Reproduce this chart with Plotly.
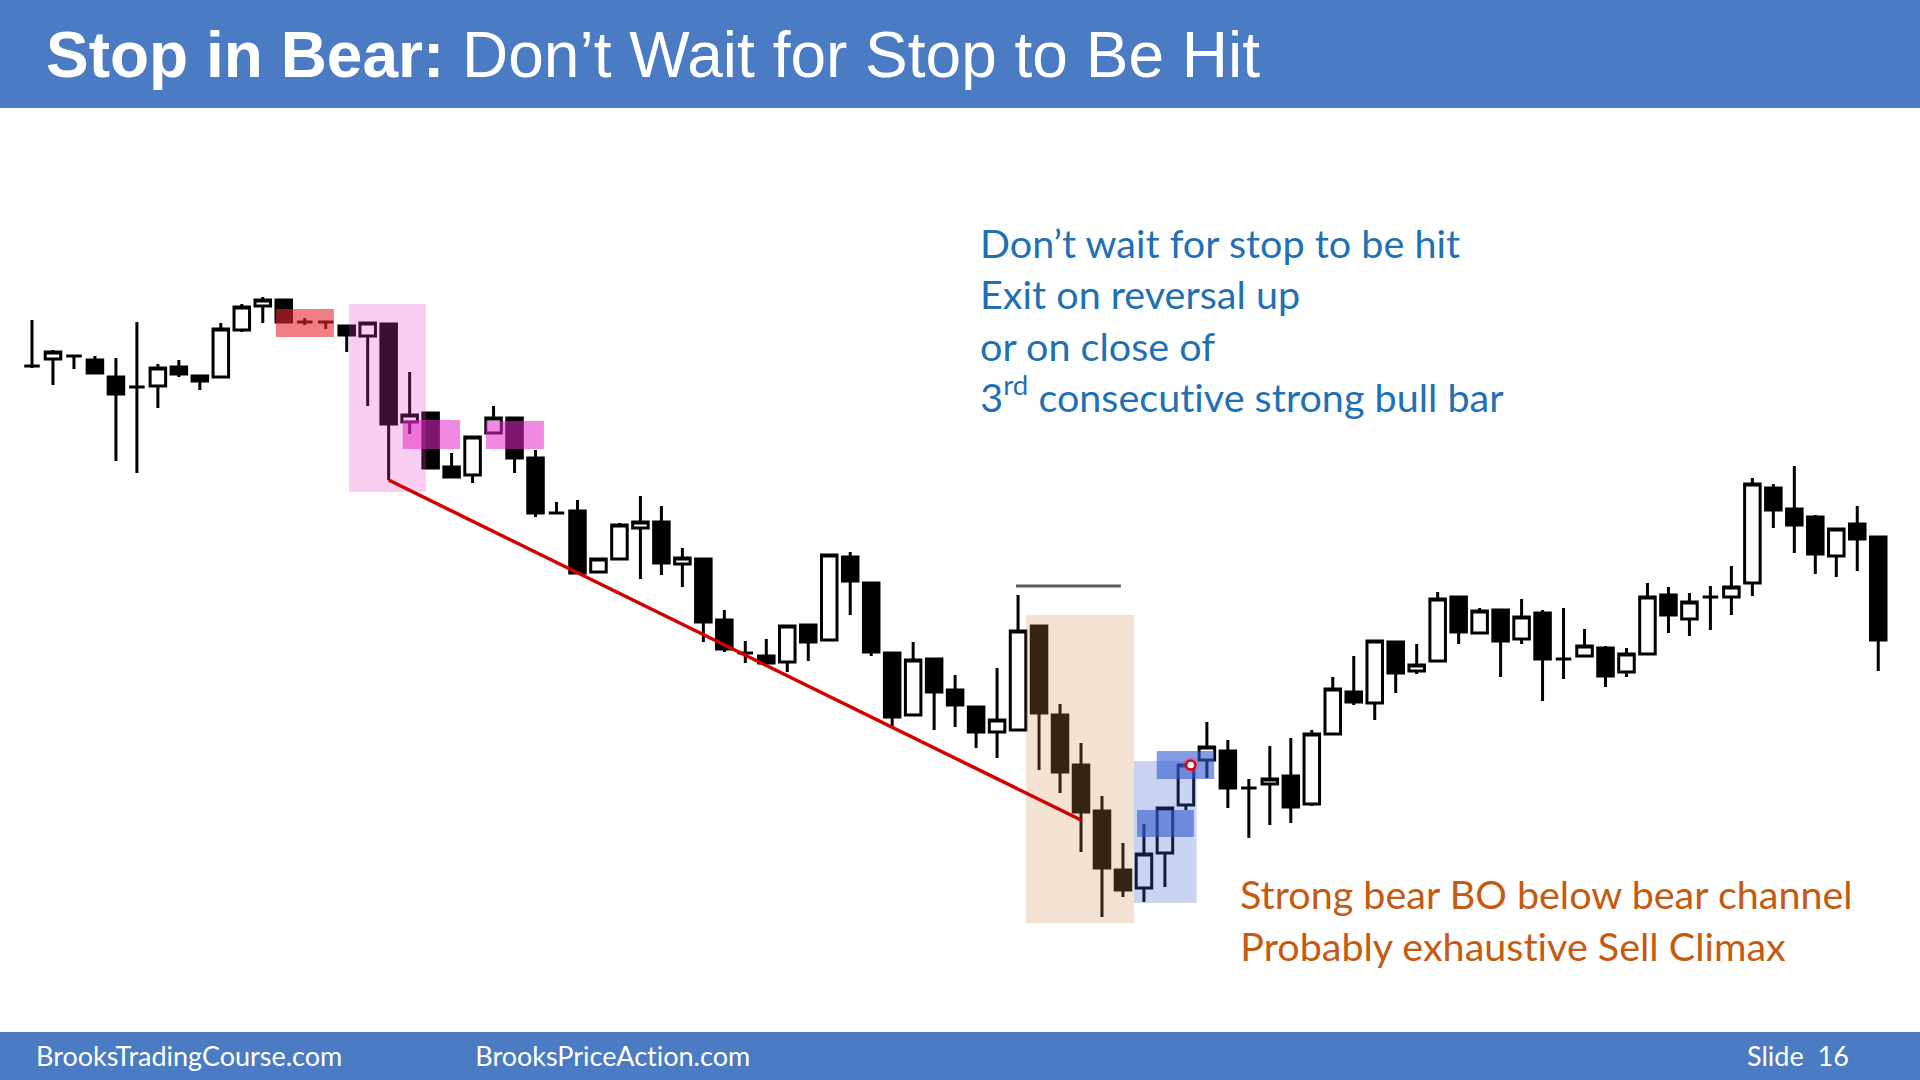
import plotly.graph_objects as go

# ---------------- data (price units) ----------------
bar_index = list(range(1, 90))
opens = [71.4, 72.1, 72.4, 72.0, 70.3, 69.3, 69.4, 71.3, 70.4, 70.3,
         75.0, 77.4, 78.0, 75.8, 75.8, 75.4, 74.4, 75.6, 65.8, 66.7,
         61.3, 60.5, 64.7, 66.2, 62.2, 56.7, 56.9, 50.8, 52.1, 55.2,
         55.8, 51.6, 52.1, 46.0, 42.7, 42.4, 41.8, 45.5, 44.0, 52.3,
         49.7, 42.7, 36.5, 42.1, 39.0, 37.3, 34.8, 35.0, 45.4, 36.5,
         31.5, 26.9, 21.0, 19.2, 22.7, 27.5, 32.0, 32.9, 29.2, 29.6,
         30.4, 27.6, 34.6, 38.8, 37.7, 43.8, 40.9, 41.9, 48.3, 44.7,
         47.0, 44.1, 46.7, 42.1, 42.4, 43.2, 40.8, 42.6, 48.5, 46.1,
         48.3, 48.3, 49.7, 59.2, 57.1, 56.3, 52.4, 55.6, 54.3]
highs = [76.0, 73.0, 72.5, 72.4, 72.2, 75.8, 71.6, 72.0, 70.4, 75.7,
         77.6, 78.3, 78.1, 76.2, 75.9, 75.4, 75.7, 75.6, 70.8, 66.8,
         62.7, 64.3, 67.4, 66.2, 63.0, 57.8, 58.0, 52.2, 55.7, 58.4,
         57.4, 53.2, 52.1, 47.0, 43.9, 44.1, 45.4, 45.5, 52.5, 52.8,
         49.7, 42.7, 43.8, 42.1, 40.5, 37.4, 41.2, 48.5, 45.4, 37.6,
         33.7, 28.4, 23.7, 25.6, 27.3, 31.7, 35.8, 34.0, 30.1, 33.4,
         34.2, 35.0, 40.3, 42.4, 43.9, 43.8, 43.6, 48.8, 48.3, 47.2,
         47.0, 48.1, 47.0, 47.2, 45.1, 43.4, 43.2, 49.7, 49.3, 48.7,
         49.4, 51.4, 60.2, 59.6, 61.4, 56.5, 55.1, 57.4, 54.3]
lows = [71.2, 69.5, 71.1, 70.6, 61.9, 60.7, 67.2, 70.3, 69.0, 70.2,
        74.8, 75.7, 75.8, 75.5, 75.1, 72.8, 67.4, 60.0, 64.6, 61.2,
        60.3, 59.7, 64.7, 60.7, 56.3, 56.6, 50.7, 50.7, 52.0, 50.1,
        50.5, 49.3, 43.8, 42.8, 41.7, 41.6, 40.8, 41.9, 43.9, 46.5,
        42.4, 35.3, 36.4, 35.0, 35.3, 33.2, 32.2, 34.9, 31.0, 28.7,
        22.8, 16.3, 18.3, 17.8, 19.3, 27.0, 30.2, 27.2, 24.2, 25.5,
        25.7, 27.4, 34.5, 37.5, 36.0, 38.7, 40.6, 41.8, 43.6, 44.7,
        40.3, 43.6, 37.9, 40.1, 42.3, 39.3, 40.3, 42.5, 44.7, 44.4,
        45.0, 46.5, 48.4, 55.2, 52.7, 50.6, 50.3, 50.9, 40.9]
closes = [71.4, 72.8, 72.4, 70.7, 68.6, 69.3, 71.2, 70.6, 69.9, 75.1,
          77.3, 78.0, 75.8, 75.8, 75.8, 74.5, 75.7, 65.6, 66.5, 61.2,
          60.3, 64.3, 66.2, 62.2, 56.7, 56.7, 50.7, 52.1, 55.5, 55.8,
          51.7, 52.2, 45.8, 43.1, 42.7, 41.7, 45.4, 43.8, 52.5, 49.9,
          42.8, 36.3, 42.0, 38.8, 37.5, 34.8, 36.0, 44.9, 36.7, 30.8,
          26.8, 21.2, 19.0, 22.6, 27.2, 31.5, 33.3, 29.2, 29.2, 30.1,
          27.3, 34.6, 39.1, 37.8, 43.9, 40.7, 41.5, 48.1, 44.8, 46.9,
          43.9, 46.3, 42.1, 42.1, 43.4, 40.4, 42.6, 48.3, 46.5, 47.8,
          48.3, 49.3, 59.6, 57.0, 55.5, 52.6, 55.1, 54.1, 44.0]

# bear trend line (bar index, price) and prior-high line
trend_x = [18, 51]
trend_y = [60.0, 26.0]
prior_high_x = [47.9, 52.9]
prior_high_y = [49.4, 49.4]
# entry marker (bar index, price)
marker_x = [56.23]
marker_y = [31.5]

# highlight zones: (bar from, bar to, price low, price high, fill)
zones = [
    (12.63, 15.39, 74.3, 77.1, "rgba(230,40,50,0.6)"),
    (16.11, 19.78, 58.8, 77.6, "rgba(235,60,200,0.25)"),
    (18.67, 21.40, 63.1, 66.0, "rgba(225,40,200,0.55)"),
    (22.64, 25.40, 63.1, 65.9, "rgba(225,40,200,0.55)"),
    (48.38, 53.53, 15.7, 46.5, "rgba(210,140,80,0.25)"),
    (53.53, 56.51, 17.7, 31.9, "rgba(60,100,200,0.28)"),
    (53.67, 56.38, 24.3, 27.0, "rgba(50,90,210,0.6)"),
    (54.61, 57.35, 30.1, 32.9, "rgba(50,90,210,0.6)"),
]

title_bold = "Stop in Bear:"
title_rest = " Don\u2019t Wait for Stop to Be Hit"
note_lines = ["Don\u2019t wait for stop to be hit",
              "Exit on reversal up",
              "or on close of",
              "3<sup>rd</sup> consecutive strong bull bar"]
climax_lines = ["Strong bear BO below bear channel",
                "Probably exhaustive Sell Climax"]
footer_left = "BrooksTradingCourse.com"
footer_mid = "BrooksPriceAction.com"
footer_right = "Slide  16"

W, H = 1920, 1080
BAND = "#4A7BC3"

fig = go.Figure()
fig.add_trace(go.Candlestick(
    x=bar_index, open=opens, high=highs, low=lows, close=closes,
    increasing=dict(line=dict(color="black", width=3), fillcolor="white"),
    decreasing=dict(line=dict(color="black", width=3), fillcolor="black"),
    whiskerwidth=0, showlegend=False, hoverinfo="skip",
))

shapes = []
# header & footer bands
shapes.append(dict(type="rect", xref="paper", yref="paper", x0=0, x1=1,
                   y0=1 - 108 / H, y1=1, fillcolor=BAND, line=dict(width=0), layer="below"))
shapes.append(dict(type="rect", xref="paper", yref="paper", x0=0, x1=1,
                   y0=0, y1=48 / H, fillcolor=BAND, line=dict(width=0), layer="below"))
for x0, x1, y0, y1, col in zones:
    shapes.append(dict(type="rect", xref="x", yref="y", x0=x0, x1=x1, y0=y0, y1=y1,
                       fillcolor=col, line=dict(width=0), layer="above"))
shapes.append(dict(type="line", xref="x", yref="y", x0=trend_x[0], y0=trend_y[0],
                   x1=trend_x[1], y1=trend_y[1], line=dict(color="#d40000", width=3.5),
                   layer="above"))
shapes.append(dict(type="line", xref="x", yref="y", x0=prior_high_x[0], y0=prior_high_y[0],
                   x1=prior_high_x[1], y1=prior_high_y[1], line=dict(color="#5a5a5a", width=3),
                   layer="above"))
# entry dot (glow + ring)
shapes.append(dict(type="circle", xref="x", yref="y", xsizemode="pixel", ysizemode="pixel",
                   xanchor=marker_x[0], yanchor=marker_y[0], x0=-8, x1=8, y0=-8, y1=8,
                   fillcolor="rgba(255,60,60,0.25)", line=dict(width=0), layer="above"))
shapes.append(dict(type="circle", xref="x", yref="y", xsizemode="pixel", ysizemode="pixel",
                   xanchor=marker_x[0], yanchor=marker_y[0], x0=-4.5, x1=4.5, y0=-4.5, y1=4.5,
                   fillcolor="white", line=dict(color="#e00010", width=2.5), layer="above"))

ann = []
def px(x):
    return x / W
def py(y):
    return 1 - y / H

ann.append(dict(text="<b>" + title_bold + "</b>" + title_rest, x=px(44), y=py(55),
                xref="paper", yref="paper", xanchor="left", yanchor="middle", showarrow=False,
                font=dict(family="Liberation Sans, Arial", size=64, color="white")))
note_y = [242.5, 294, 345.5, 394]
for line, y in zip(note_lines, note_y):
    ann.append(dict(text=line, x=px(978), y=py(y), xref="paper", yref="paper",
                    xanchor="left", yanchor="middle", showarrow=False,
                    font=dict(family="Lato", size=39.5, color="#1F70B4")))
for i, line in enumerate(climax_lines):
    ann.append(dict(text=line, x=px(1238), y=py(893.5 + i * 52), xref="paper", yref="paper",
                    xanchor="left", yanchor="middle", showarrow=False,
                    font=dict(family="Lato", size=39.5, color="#C55A11")))
for txt, x, anchor in [(footer_left, 34, "left"), (footer_mid, 473, "left"),
                       (footer_right, 1851, "right")]:
    ann.append(dict(text=txt, x=px(x), y=py(1055), xref="paper", yref="paper",
                    xanchor=anchor, yanchor="middle", showarrow=False,
                    font=dict(family="Lato", size=27, color="white")))

fig.update_layout(
    width=W, height=H, margin=dict(l=0, r=0, t=0, b=0),
    paper_bgcolor="white", plot_bgcolor="white",
    xaxis=dict(range=[-0.525, 90.99], visible=False, rangeslider=dict(visible=False),
               fixedrange=True),
    yaxis=dict(range=[0, 108], visible=False, fixedrange=True),
    boxgap=0.26, boxgroupgap=0,
    shapes=shapes, annotations=ann, showlegend=False,
)

fig.write_html(
    "out.html", config={"displayModeBar": False},
    post_script=(
        "document.body.style.margin='0';document.body.style.overflow='hidden';"
        "var s=document.createElement('style');"
        "s.innerHTML='text{font-variant-ligatures:none !important;"
        "font-feature-settings:\"liga\" 0,\"clig\" 0 !important;}';"
        "document.head.appendChild(s);"
    ),
)
